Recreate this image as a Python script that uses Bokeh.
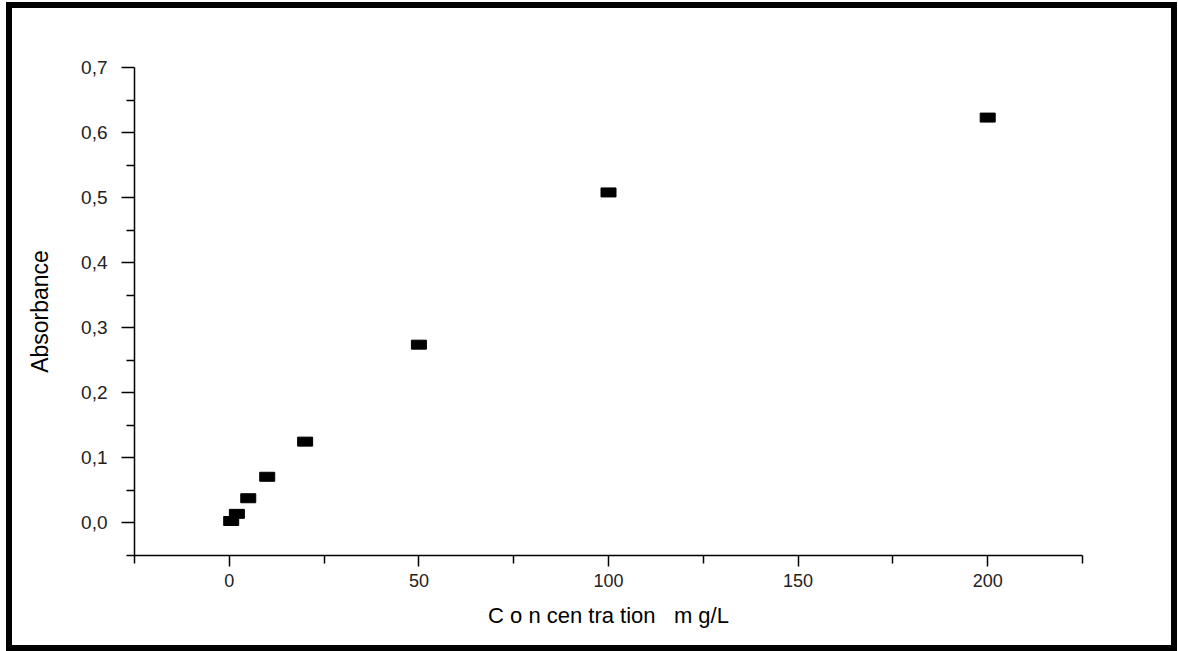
from bokeh.plotting import figure
from bokeh.models import FixedTicker, CustomJSTickFormatter, Range1d, ColumnDataSource
from bokeh.embed import file_html
from bokeh.resources import INLINE

# Data
concentration = [0.5, 2, 5, 10, 20, 50, 100, 200]
absorbance = [0.003, 0.014, 0.038, 0.071, 0.125, 0.274, 0.508, 0.623]

x_ticks = [0, 50, 100, 150, 200]
x_minor = [-25, 25, 75, 125, 175, 225]
y_ticks = [0.0, 0.1, 0.2, 0.3, 0.4, 0.5, 0.6, 0.7]
y_minor = [-0.05, 0.05, 0.15, 0.25, 0.35, 0.45, 0.55, 0.65]

x_label = "C o n cen tra tion\u00a0\u00a0\u00a0m g/L"
y_label = "Absorbance"

FONT = "Liberation Sans"

p = figure(width=1159, height=637, output_backend="svg", toolbar_location=None,
           x_range=Range1d(-25, 225), y_range=Range1d(-0.05, 0.7),
           min_border_left=122, min_border_right=101,
           min_border_top=59, min_border_bottom=102,
           styles={"border": "6px solid black", "box-sizing": "content-box",
                   "margin-left": "6px", "margin-top": "2px"})

p.grid.visible = False
p.outline_line_color = None
p.background_fill_color = "white"
p.border_fill_color = "white"

src = ColumnDataSource(dict(x=concentration, y=absorbance))
p.rect(x="x", y="y", width=15, height=9, width_units="screen", height_units="screen",
       source=src, fill_color="black", line_color="black")

# X axis
xa = p.xaxis[0]
xa.ticker = FixedTicker(ticks=x_ticks, minor_ticks=x_minor)
xa.axis_label = x_label
xa.axis_line_width = 1.5
xa.major_tick_line_width = 1.5
xa.minor_tick_line_width = 1.5
xa.major_tick_in = 0
xa.major_tick_out = 11
xa.minor_tick_in = 0
xa.minor_tick_out = 8
xa.major_label_standoff = 7
xa.major_label_text_font = FONT
xa.major_label_text_font_size = "18px"
xa.major_label_text_color = "#222222"
xa.axis_label_text_font = FONT
xa.axis_label_text_font_size = "22px"
xa.axis_label_text_font_style = "normal"
xa.axis_label_text_color = "black"
xa.axis_label_standoff = 13

# Y axis
ya = p.yaxis[0]
ya.ticker = FixedTicker(ticks=y_ticks, minor_ticks=y_minor)
ya.formatter = CustomJSTickFormatter(code="return tick.toFixed(1).replace('.', ',');")
ya.axis_label = y_label
ya.axis_line_width = 1.5
ya.major_tick_line_width = 1.5
ya.minor_tick_line_width = 1.5
ya.major_tick_in = 0
ya.major_tick_out = 13
ya.minor_tick_in = 0
ya.minor_tick_out = 8
ya.major_label_standoff = 14
ya.major_label_text_font = FONT
ya.major_label_text_font_size = "19px"
ya.major_label_text_color = "#222222"
ya.axis_label_text_font = FONT
ya.axis_label_text_font_size = "23px"
ya.axis_label_text_font_style = "normal"
ya.axis_label_text_color = "black"
ya.axis_label_standoff = 25

open("out.html", "w").write(file_html(p, INLINE))
